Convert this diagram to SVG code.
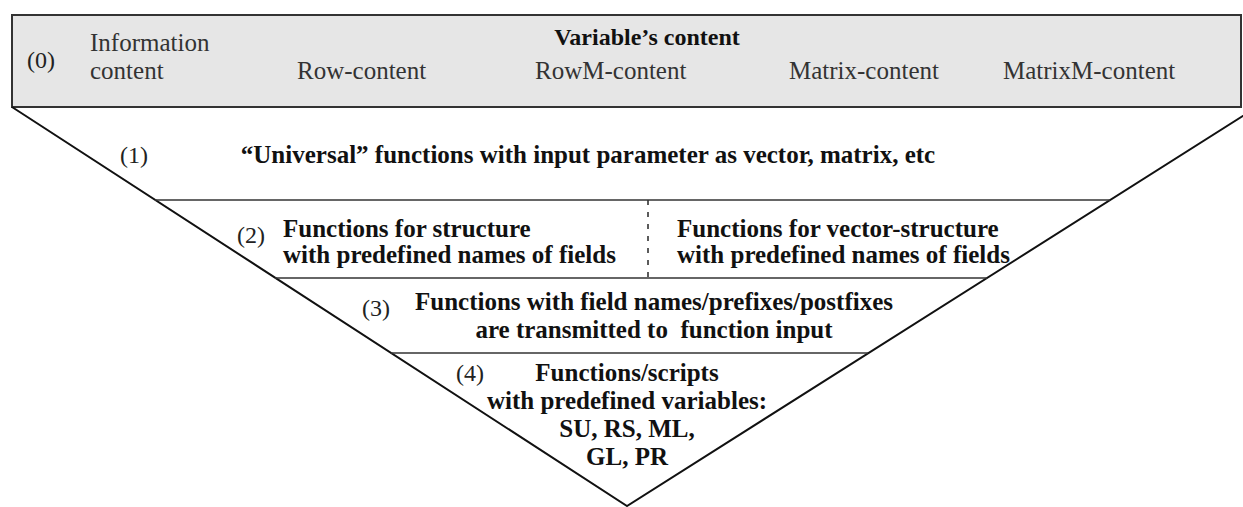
<svg xmlns="http://www.w3.org/2000/svg" width="1243" height="507" viewBox="0 0 1243 507">
<style>
text{font-family:'Liberation Serif','DejaVu Serif',serif}
.reg{font-size:25px;fill:#333}
.b{font-size:25px;font-weight:bold;fill:#111}
.num{font-size:24px;fill:#222}
.edge{stroke:#111;stroke-width:2;fill:none}
.sep{stroke:#333;stroke-width:1.6;fill:none}
</style>
<rect width="1243" height="507" fill="#fff"/>
<g id="level0">
<rect x="12" y="15" width="1229" height="92" fill="#e6e6e6" stroke="#333" stroke-width="2"/>
<text class="num" x="27" y="68">(0)</text>
<text class="reg" x="90" y="51">Information</text>
<text class="reg" x="90" y="79">content</text>
<text class="b" x="647" y="45" text-anchor="middle" style="font-size:24px">Variable’s content</text>
<text class="reg" x="297" y="79">Row-content</text>
<text class="reg" x="535" y="79">RowM-content</text>
<text class="reg" x="789" y="79">Matrix-content</text>
<text class="reg" x="1003" y="79">MatrixM-content</text>
</g>
<g id="connectors">
<polyline class="edge" points="12,107 627,506 1257,107"/>
<line class="sep" x1="155" y1="200" x2="1110" y2="200"/>
<line class="sep" x1="275" y1="278" x2="987" y2="278"/>
<line class="sep" x1="391" y1="353" x2="868" y2="353"/>
<line class="sep" x1="648" y1="200" x2="648" y2="278" stroke-dasharray="5 7"/>
</g>
<g id="level1">
<text class="num" x="120" y="163">(1)</text>
<text class="b" x="588" y="163" text-anchor="middle">“Universal” functions with input parameter as vector, matrix, etc</text>
</g>
<g id="level2a">
<text class="num" x="237" y="243">(2)</text>
<text class="b" x="283" y="237">Functions for structure</text>
<text class="b" x="283" y="263">with predefined names of fields</text>
</g>
<g id="level2b">
<text class="b" x="677" y="237">Functions for vector-structure</text>
<text class="b" x="677" y="263">with predefined names of fields</text>
</g>
<g id="level3">
<text class="num" x="362" y="316">(3)</text>
<text class="b" x="654" y="310" text-anchor="middle">Functions with field names/prefixes/postfixes</text>
<text class="b" x="654" y="338" text-anchor="middle" style="white-space:pre">are transmitted to  function input</text>
</g>
<g id="level4">
<text class="num" x="456" y="381">(4)</text>
<text class="b" x="627" y="381" text-anchor="middle">Functions/scripts</text>
<text class="b" x="627" y="409" text-anchor="middle">with predefined variables:</text>
<text class="b" x="627" y="437" text-anchor="middle">SU, RS, ML,</text>
<text class="b" x="627" y="465" text-anchor="middle">GL, PR</text>
</g>
</svg>
